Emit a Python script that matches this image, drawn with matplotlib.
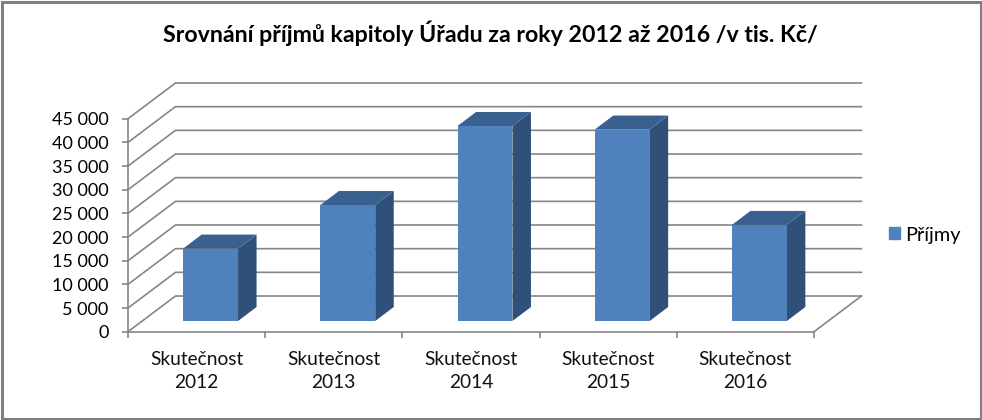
import matplotlib
matplotlib.use("Agg")
import matplotlib.pyplot as plt
from matplotlib.patches import Patch, Rectangle

plt.rcParams['font.family'] = ['Lato', 'DejaVu Sans']

# data
categories = ["Skutečnost\n2012", "Skutečnost\n2013", "Skutečnost\n2014", "Skutečnost\n2015", "Skutečnost\n2016"]
prijmy = [15300, 24500, 41200, 40450, 20300]
y_ticks = [0, 5000, 10000, 15000, 20000, 25000, 30000, 35000, 40000, 45000]
y_labels = ["0", "5 000", "10 000", "15 000", "20 000", "25 000", "30 000", "35 000", "40 000", "45 000"]

# pseudo 3D depth, in data units
wall_dx = 0.346
wall_dy = 7540
bar_start_dx = 0.102
bar_start_dy = 2260
bar_dx = 0.135
bar_dy = 2960
bar_width = 0.4

front = "#4F81BD"
top = "#3A6090"
side = "#2F5079"
grid = "#868686"

fig = plt.figure(figsize=(9.82, 4.2), dpi=100, facecolor="white")
ax = fig.add_axes([128 / 982, (420 - 331.7) / 420, 686 / 982, 213 / 420])
ax.set_xlim(0, 5)
ax.set_ylim(0, 45000)
ax.patch.set_visible(False)

# back wall and left wall lines
for t in y_ticks:
    ax.plot([0, wall_dx, 5 + wall_dx], [t, t + wall_dy, t + wall_dy], color=grid, lw=1.2, clip_on=False, zorder=1)
ax.plot([5, 5 + wall_dx], [0, wall_dy], color=grid, lw=1.2, clip_on=False, zorder=1)

# bars
for i, v in enumerate(prijmy):
    x0 = i + 0.5 - bar_width / 2 + bar_start_dx
    x1 = x0 + bar_width
    y0 = bar_start_dy
    ytop = y0 + v
    ax.fill([x1, x1 + bar_dx, x1 + bar_dx, x1], [y0, y0 + bar_dy, ytop + bar_dy, ytop], color=side, lw=0, clip_on=False, zorder=3)
    ax.fill([x0, x1, x1 + bar_dx, x0 + bar_dx], [ytop, ytop, ytop + bar_dy, ytop + bar_dy], color=top, lw=0, clip_on=False, zorder=3)
    ax.bar(x0, v, width=bar_width, bottom=y0, align="edge", color=front, lw=0, clip_on=False, zorder=4)

ax.set_yticks(y_ticks)
ax.set_yticklabels(y_labels, fontsize=13, color="black")
ax.set_xticks(range(6))
ax.set_xticklabels([""] * 6)
ax.tick_params(axis="both", color=grid, width=1.2, length=4)
ax.tick_params(axis="y", pad=10)

for i, c in enumerate(categories):
    ax.annotate(c, (i + 0.5, 0), xytext=(0, -14), textcoords="offset points", ha="center", va="top",
                fontsize=13.8, linespacing=1.45, color="#111111", annotation_clip=False)

for s in ["top", "right"]:
    ax.spines[s].set_visible(False)
for s in ["left", "bottom"]:
    ax.spines[s].set_color(grid)
    ax.spines[s].set_linewidth(1.2)

fig.text(490 / 982, 1 - 33 / 420, "Srovnání příjmů kapitoly Úřadu za roky 2012 až 2016 /v tis. Kč/",
         ha="center", va="center", fontsize=16.7, fontweight="bold", color="black")

fig.legend(handles=[Patch(color=front, label="Příjmy")], loc="center left",
           bbox_to_anchor=(889 / 982, 1 - 235 / 420), frameon=False, fontsize=14.3,
           handlelength=0.55, handleheight=0.55, handletextpad=0.25, borderpad=0, borderaxespad=0)

# outer frame
fig.add_artist(Rectangle((1.5 / 982, 1.5 / 420), 979 / 982, 417 / 420, transform=fig.transFigure,
                         fill=False, edgecolor="#7F7F7F", lw=2.2))

fig.savefig("out.png", dpi=100)
